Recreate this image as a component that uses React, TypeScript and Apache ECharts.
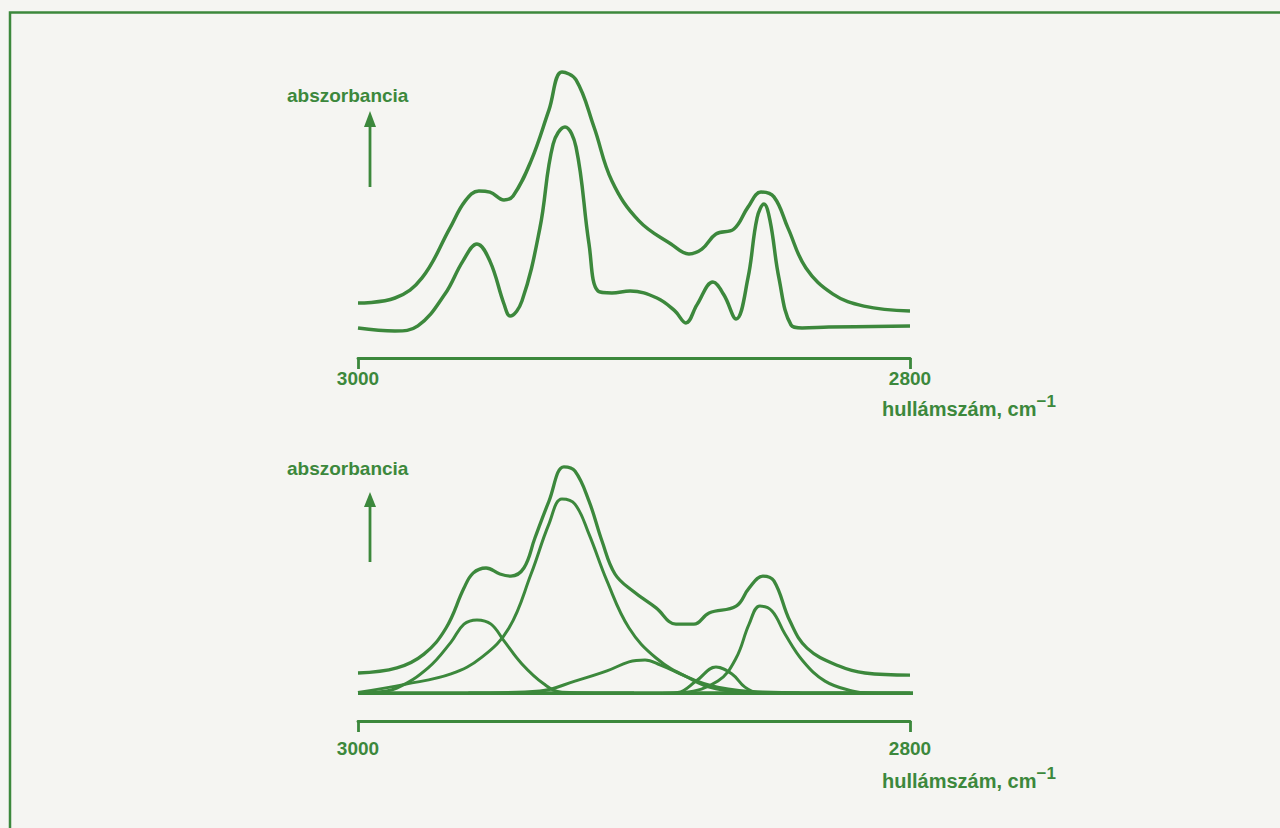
import React, { useEffect, useRef } from "react";
import * as echarts from "echarts";

// ---- data: wavenumber (cm-1) vs absorbance (arbitrary units) ----
const xTicks = [3000, 2800];

// top panel: measured spectrum (upper) and its derivative-enhanced form (lower)
const topUpper: number[][] = [
  [3000, 18.3], [2986.6, 20], [2976.8, 26.7], [2966.7, 43.3], [2961.2, 52.3], [2956.2, 55.7],
  [2952.2, 55.3], [2947.1, 52.7], [2943.8, 54], [2937.3, 65.7], [2930.8, 82.7], [2926.1, 95.3],
  [2921.0, 92.7], [2914.5, 77], [2908.0, 59], [2898.2, 45.7], [2886.6, 38], [2880.1, 34.7],
  [2875.4, 36.3], [2870.3, 41.3], [2863.8, 43], [2858.7, 50.3], [2854.0, 55.3], [2849.3, 53.7],
  [2844.2, 43.3], [2837.7, 30], [2827.9, 21.3], [2816.7, 17.3], [2800, 15.7],
];
const topLower: number[][] = [
  [3000, 10], [2986.6, 9], [2978.3, 10.7], [2968.5, 21.3], [2962.0, 32.3], [2956.9, 38],
  [2952.2, 32.3], [2947.1, 18], [2944.9, 14], [2940.6, 19], [2934.1, 43.3], [2929.3, 71.3],
  [2925.0, 77], [2921.0, 70.3], [2916.3, 38], [2913.0, 22.3], [2908.0, 21.7], [2901.4, 22.3],
  [2891.7, 20], [2885.2, 15.7], [2881.2, 11.7], [2877.2, 17.7], [2871.4, 25.3], [2867.4, 21],
  [2863.0, 13], [2858.7, 26.7], [2855.4, 46.7], [2852.9, 51.3], [2850.7, 45.7], [2847.5, 26.7],
  [2843.1, 11], [2839.1, 10], [2829.4, 10.3], [2800, 10.7],
];

// bottom panel: envelope and fitted component bands
const botEnvelope: number[][] = [
  [3000, 16], [2985.9, 17.7], [2976.1, 22.3], [2968.1, 31], [2961.6, 44.3], [2958.3, 49.3],
  [2953.6, 51], [2948.6, 49], [2944.6, 48.3], [2939.9, 51], [2935.9, 61], [2930.8, 73.3],
  [2925.4, 84.7], [2921.4, 83.3], [2916.3, 73.3], [2911.6, 60], [2906.9, 49], [2900.4, 43.3],
  [2892.0, 37.7], [2884.8, 32.3], [2878.3, 32.3], [2872.8, 36], [2863.0, 38.3], [2858.3, 44.3],
  [2853.3, 48.3], [2849.3, 46.7], [2843.5, 33.3], [2837.3, 24.3], [2825.7, 18.3], [2816.3, 16],
  [2800, 15.3],
];
const bandMain: number[][] = [
  [3000, 9.5], [2982.6, 12.3], [2966.3, 15.7], [2955.1, 21.3], [2945.3, 31], [2937.3, 49],
  [2930.8, 65.7], [2926.1, 74], [2921.4, 72.3], [2916.3, 62.3], [2909.8, 46.7], [2901.8, 31],
  [2892.0, 21], [2880.8, 14.7], [2869.6, 11.3], [2853.3, 9.7], [2821.0, 9.3], [2800, 9.3],
];
const bandLeft: number[][] = [
  [3000, 9.3], [2995.7, 9.4], [2985.9, 11], [2974.6, 17.7], [2966.3, 26.3], [2961.6, 32.3],
  [2956.9, 33.7], [2951.8, 32.3], [2947.1, 26.7], [2940.6, 19], [2932.6, 12.3], [2926.1, 9.6],
  [2900, 9.3],
];
const bandBroad: number[][] = [
  [2960, 9.3], [2934.1, 10], [2921.4, 13.3], [2909.8, 16.7], [2901.8, 19.7], [2896.0, 20.3],
  [2890.6, 18.7], [2882.2, 15.3], [2872.8, 11.3], [2861.6, 9.7], [2840, 9.3],
];
const bandSmall: number[][] = [
  [2890, 9.2], [2884.1, 9.5], [2877.5, 13.3], [2870.3, 18], [2864.5, 15.7], [2859.8, 11.3],
  [2855.1, 9.5], [2845, 9.3],
];
const bandRight: number[][] = [
  [2890, 9.2], [2882.2, 9.5], [2869.6, 13.3], [2863.0, 21], [2858.3, 32.3], [2854.4, 38.3],
  [2850.0, 36.7], [2845.3, 29], [2838.8, 20], [2830.8, 13.3], [2821.0, 10], [2814.5, 9.3],
  [2800, 9.2],
];
const baseline: number[][] = [
  [3000, 9.3], [2795.7, 9.3],
];

const GREEN = "#3c883c";
const FONT = "'Liberation Sans', Arial, sans-serif";

function lineSeries(data: number[][], idx: number, width = 3.5) {
  return {
    type: "line",
    xAxisIndex: idx,
    yAxisIndex: idx,
    data,
    smooth: 0.4,
    symbol: "none",
    clip: false,
    lineStyle: { color: GREEN, width },
    z: 3,
  };
}

function xAxisFor(idx: number, margin: number) {
  return {
    type: "value",
    gridIndex: idx,
    min: xTicks[1],
    max: xTicks[0],
    interval: xTicks[0] - xTicks[1],
    inverse: true,
    axisLine: { show: true, lineStyle: { color: GREEN, width: 2.8 } },
    axisTick: { show: true, inside: false, length: 11, lineStyle: { color: GREEN, width: 2.8 } },
    axisLabel: {
      show: true,
      color: GREEN,
      fontSize: 19,
      fontFamily: FONT,
      fontWeight: "bold",
      margin,
      showMinLabel: true,
      showMaxLabel: true,
      formatter: (v: number) => String(v),
    },
    splitLine: { show: false },
  };
}

function yAxisFor(idx: number) {
  return {
    type: "value",
    gridIndex: idx,
    min: 0,
    max: 100,
    show: false,
  };
}

function arrow(x: number, tipY: number, baseY: number, tailY: number) {
  return [
    {
      type: "line",
      shape: { x1: x, y1: baseY - 1, x2: x, y2: tailY },
      style: { stroke: GREEN, lineWidth: 2.8 },
    },
    {
      type: "polygon",
      shape: { points: [[x, tipY], [x - 6, baseY], [x + 6, baseY]] },
      style: { fill: GREEN },
    },
  ];
}

function labelText(x: number, y: number, text: string) {
  return {
    type: "text",
    x,
    y,
    style: {
      text,
      fill: GREEN,
      font: `bold 19px ${FONT}`,
      verticalAlign: "middle",
      align: "left",
    },
  };
}

function unitText(x: number, y: number) {
  return {
    type: "text",
    x,
    y,
    style: {
      text: "{a|hullámszám, cm}{b|−1}",
      verticalAlign: "middle",
      align: "left",
      rich: {
        a: { fill: GREEN, fontSize: 20, fontWeight: "bold", fontFamily: FONT, lineHeight: 26, verticalAlign: "bottom" },
        b: { fill: GREEN, fontSize: 17, fontWeight: "bold", fontFamily: FONT, lineHeight: 17, verticalAlign: "top" },
      },
    },
  };
}

export default function App() {
  const ref = useRef<HTMLDivElement>(null);

  useEffect(() => {
    if (!ref.current) return;
    const chart = echarts.init(ref.current, undefined, { renderer: "svg" });
    chart.setOption({
      animation: false,
      backgroundColor: "#f5f5f2",
      grid: [
        { left: 358, right: 370, top: 58, height: 300 },
        { left: 358, right: 370, top: 421, height: 300 },
      ],
      xAxis: [xAxisFor(0, 11), xAxisFor(1, 18)],
      yAxis: [yAxisFor(0), yAxisFor(1)],
      series: [
        lineSeries(topUpper, 0),
        lineSeries(topLower, 0),
        lineSeries(baseline, 1, 3.8),
        lineSeries(bandLeft, 1, 3),
        lineSeries(bandMain, 1, 3),
        lineSeries(bandBroad, 1, 3),
        lineSeries(bandSmall, 1, 3),
        lineSeries(bandRight, 1, 3),
        lineSeries(botEnvelope, 1, 3.3),
      ],
      graphic: [
        {
          type: "polyline",
          shape: { points: [[10, 840], [10, 12.5], [1290, 12.5]] },
          style: { stroke: GREEN, lineWidth: 2.5, fill: "none" },
        },
        labelText(287, 95, "abszorbancia"),
        ...arrow(370, 111, 127, 187),
        unitText(882, 406),
        labelText(287, 468, "abszorbancia"),
        ...arrow(370, 492, 507, 562),
        unitText(882, 778),
      ],
    });
    return () => chart.dispose();
  }, []);

  return (
    <div
      ref={ref}
      style={{ position: "fixed", left: 0, top: 0, width: 1280, height: 828 }}
    />
  );
}
